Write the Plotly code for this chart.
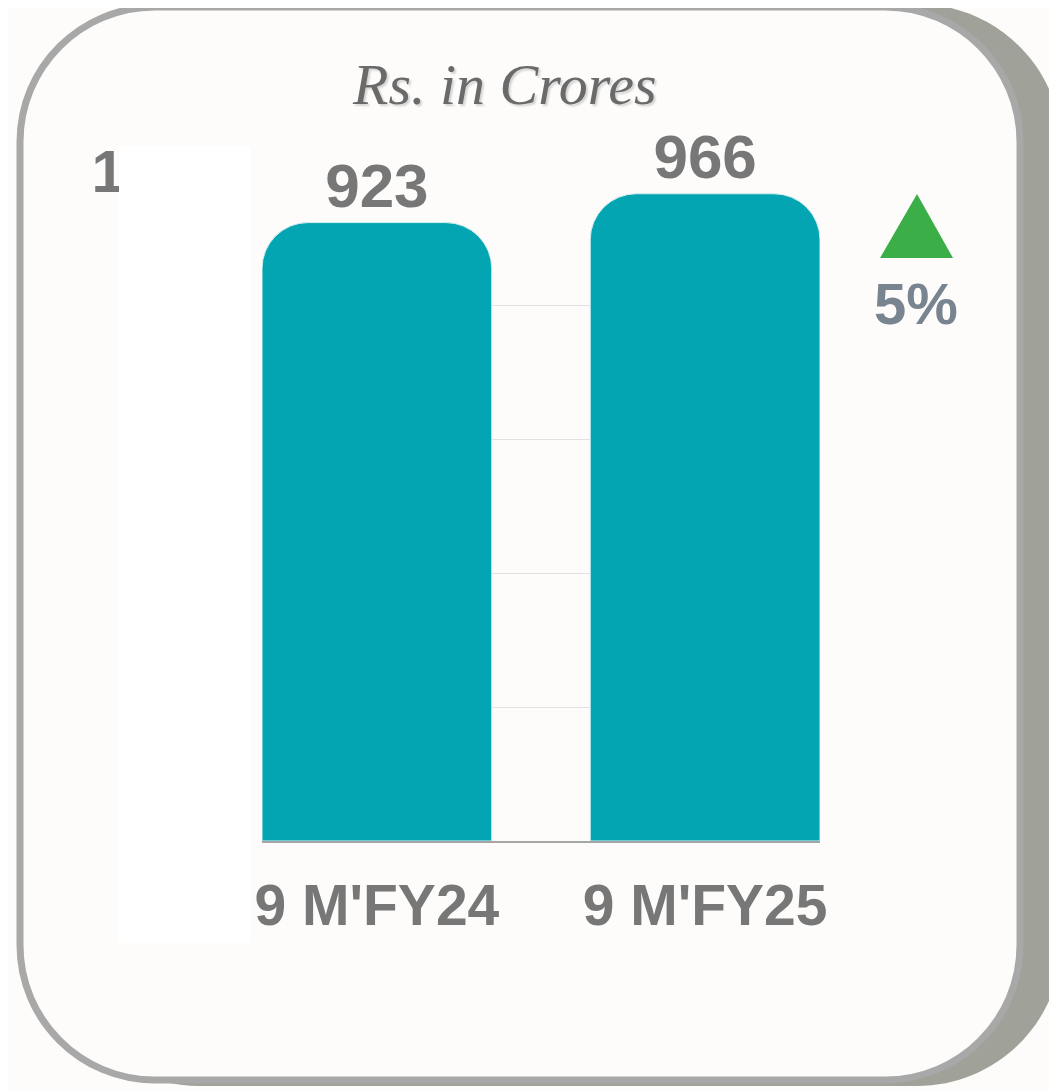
import plotly.graph_objects as go

categories = ["9 M'FY24", "9 M'FY25"]
values = [923, 966]
growth_label = "5%"
title_text = "Rs. in Crores"

# page body has an 8px margin, so the figure is drawn 8px smaller and shifted
OFF = 8
W, H = 1057 - OFF, 1091 - OFF
PL, PR, PT, PB = 262, 820, 171, 841  # plot area in screen pixels

LABEL_FONT = "Liberation Sans, Arial, sans-serif"


def px(x):
    return (x - PL) / (PR - PL)


def py(y):
    return (PB - y) / (PB - PT)


def rounded_rect(x0, y0, x1, y1, r):
    k = 0.5523 * r
    pts = [
        ("M", [(x0 + r, y0)]),
        ("L", [(x1 - r, y0)]),
        ("C", [(x1 - r + k, y0), (x1, y0 + r - k), (x1, y0 + r)]),
        ("L", [(x1, y1 - r)]),
        ("C", [(x1, y1 - r + k), (x1 - r + k, y1), (x1 - r, y1)]),
        ("L", [(x0 + r, y1)]),
        ("C", [(x0 + r - k, y1), (x0, y1 - r + k), (x0, y1 - r)]),
        ("L", [(x0, y0 + r)]),
        ("C", [(x0, y0 + r - k), (x0 + r - k, y0), (x0 + r, y0)]),
    ]
    out = []
    for cmd, coords in pts:
        out.append(cmd + " " + " ".join(f"{px(a):.5f},{py(b):.5f}" for a, b in coords))
    return " ".join(out) + " Z"


def poly(points):
    return "M " + " L ".join(f"{px(a):.5f},{py(b):.5f}" for a, b in points) + " Z"


fig = go.Figure(
    go.Bar(
        x=categories,
        y=values,
        width=0.7,
        marker=dict(color="#02A5B1", cornerradius=46, line=dict(color="#d6eef0", width=1)),
        text=values,
        textposition="outside",
        textfont=dict(family=LABEL_FONT, size=62, color="#777777", weight="bold"),
        cliponaxis=False,
    )
)

shapes = [
    # card shadow
    dict(type="path", path=rounded_rect(55, 4, 1062, 1086, 145), xref="paper", yref="paper",
         fillcolor="#A0A199", line=dict(width=0), layer="below"),
    # card
    dict(type="path", path=rounded_rect(20, 7, 1020, 1080, 135), xref="paper", yref="paper",
         fillcolor="#FDFCFA", line=dict(color="#A8A8A8", width=7), layer="below"),
    # white block over the y labels
    dict(type="rect", x0=px(119), x1=px(251), y0=py(146), y1=py(943), xref="paper", yref="paper",
         fillcolor="#FFFFFF", line=dict(width=0), layer="above"),
    # growth arrow
    dict(type="path", path=poly([(880, 258), (953, 258), (917, 194)]), xref="paper", yref="paper",
         fillcolor="#3BAE48", line=dict(width=0), layer="above"),
]

annotations = [
    dict(text=title_text, x=px(504), y=py(84), xref="paper", yref="paper",
         xanchor="center", yanchor="middle", showarrow=False,
         font=dict(family="Liberation Serif, DejaVu Serif, serif", size=58, color="#6A6A6A",
                   style="italic", shadow="2px 2px 2px #d4d4d4")),
    dict(text=growth_label, x=px(916), y=py(303), xref="paper", yref="paper",
         xanchor="center", yanchor="middle", showarrow=False,
         font=dict(family=LABEL_FONT, size=58, color="#788591", weight="bold")),
]

fig.update_layout(
    width=W, height=H, autosize=False,
    margin=dict(l=PL - OFF, r=W - (PR - OFF), t=PT - OFF, b=H - (PB - OFF), pad=0),
    paper_bgcolor="#FDFCFA",
    plot_bgcolor="rgba(0,0,0,0)",
    showlegend=False,
    shapes=shapes,
    annotations=annotations,
)
fig.update_xaxes(
    range=[-0.35, 1.35], showgrid=False, showline=True, linecolor="#A6A6A6", linewidth=2,
    ticks="", ticklabelstandoff=14,
    tickfont=dict(family=LABEL_FONT, size=57, color="#777777", weight="bold"),
)
fig.update_yaxes(
    range=[0, 1000], dtick=200, showgrid=True, gridcolor="#E2E2E2", gridwidth=1,
    zeroline=False, showline=False, ticks="", ticklabelstandoff=36,
    tickfont=dict(family=LABEL_FONT, size=60, color="#777777", weight="bold"),
)

fig.write_html("out.html")
